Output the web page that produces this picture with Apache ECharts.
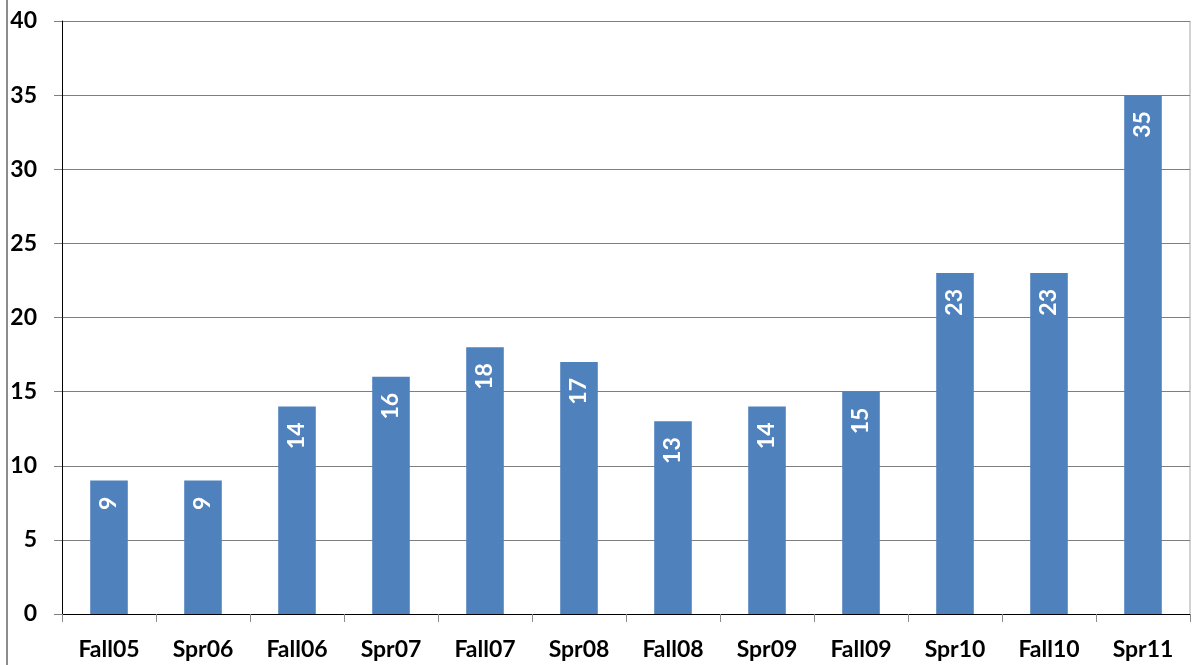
<!DOCTYPE html>
<html>
<head>
<meta charset="utf-8">
<script src="https://cdn.jsdelivr.net/npm/echarts@6/dist/echarts.min.js"></script>
<style>
  html, body { margin: 0; padding: 0; background: #fff; }
  #chart { width: 1193px; height: 665px; }
</style>
</head>
<body>
<div id="chart"></div>
<script>
const terms = ['Fall05', 'Spr06', 'Fall06', 'Spr07', 'Fall07', 'Spr08', 'Fall08', 'Spr09', 'Fall09', 'Spr10', 'Fall10', 'Spr11'];
const counts = [9, 9, 14, 16, 18, 17, 13, 14, 15, 23, 23, 35];

const font = 'Lato, "Open Sans", sans-serif';

const chart = echarts.init(document.getElementById('chart'));
chart.setOption({
  animation: false,
  textStyle: { fontFamily: font },
  grid: { left: 62, right: 3, top: 21, bottom: 51, containLabel: false },
  // grey frame on the left and right side of the plot
  graphic: [
    { type: 'line', shape: { x1: 7, y1: 0, x2: 7, y2: 665 }, style: { stroke: '#8c8c8c', lineWidth: 2 } },
    { type: 'line', shape: { x1: 1190, y1: 21, x2: 1190, y2: 614 }, style: { stroke: '#a6a6a6', lineWidth: 1 } },
  ],
  xAxis: {
    type: 'category',
    data: terms,
    axisLine: { lineStyle: { color: '#000', width: 1 } },
    axisTick: { show: true, length: 8, lineStyle: { color: '#8c8c8c' } },
    axisLabel: { fontSize: 23, fontWeight: 'bold', color: '#000', margin: 24, fontFamily: font },
  },
  yAxis: {
    type: 'value',
    min: 0,
    max: 40,
    interval: 5,
    axisLine: { show: true, lineStyle: { color: '#000', width: 1 } },
    axisTick: { show: true, length: 8, lineStyle: { color: '#7f7f7f' } },
    axisLabel: { fontSize: 23, fontWeight: 'bold', color: '#000', margin: 25, fontFamily: font },
    splitLine: { lineStyle: { color: '#7f7f7f', width: 1 } },
  },
  series: [
    {
      type: 'bar',
      data: counts,
      barWidth: '40%',
      itemStyle: { color: '#4f81bd' },
      label: {
        show: true,
        position: 'insideTop',
        rotate: 90,
        align: 'right',
        verticalAlign: 'middle',
        distance: 16,
        color: '#fff',
        fontSize: 23,
        fontWeight: 'bold',
        fontFamily: font,
      },
    },
  ],
});
</script>
</body>
</html>
